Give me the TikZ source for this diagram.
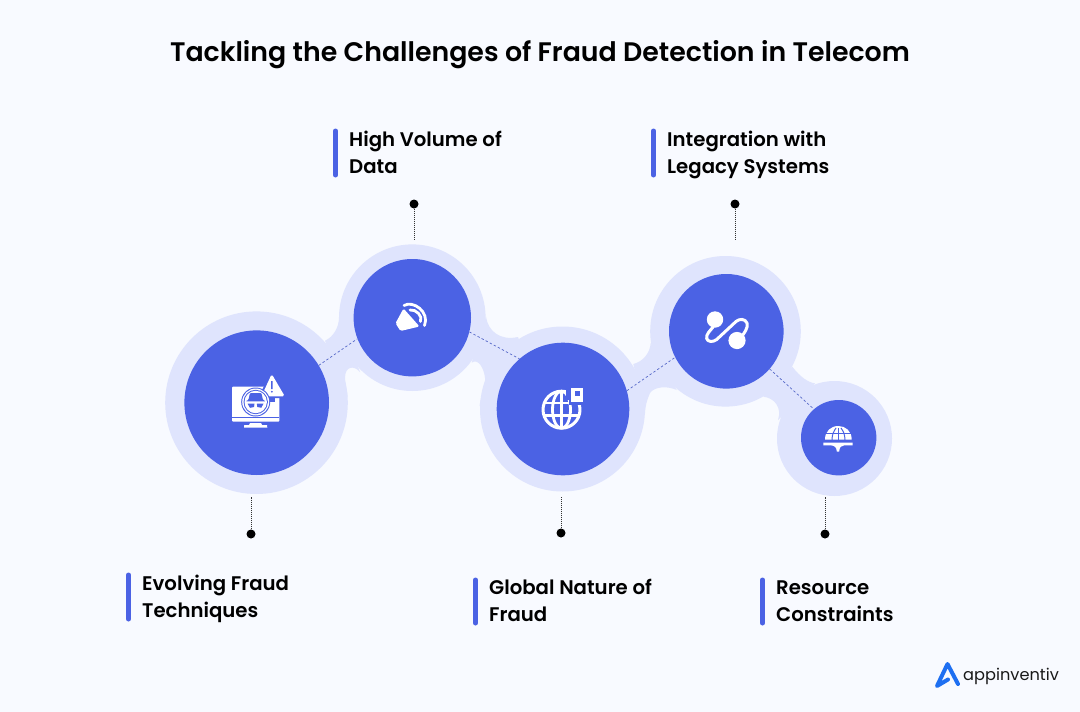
\documentclass[tikz,border=0pt]{standalone}
\usepackage{fontspec}
\setmainfont{Poppins SemiBold}
\newfontfamily\logofont{Poppins}
\definecolor{pagebg}{HTML}{F8FAFF}
\definecolor{halocol}{HTML}{DFE4FD}
\definecolor{disccol}{HTML}{4B62E4}
\definecolor{linkcol}{HTML}{5567C8}
\definecolor{logoblue}{HTML}{1E6FF1}
\tikzset{
 halo/.style={circle,fill=halocol,inner sep=0pt,minimum size=#1},
 disc/.style={circle,fill=disccol,inner sep=0pt,minimum size=#1},
 neck/.style={fill=halocol},
 link/.style={draw=linkcol,line width=0.7pt,dash pattern=on 2.4pt off 2.2pt},
 pinline/.style={draw=black!80,line width=0.6pt,dash pattern=on 1pt off 1pt},
 pindot/.style={circle,fill=black,inner sep=0pt,minimum size=9pt},
 accent/.style={draw=disccol,line width=5pt,line cap=round},
 label/.style={anchor=west,align=left,inner sep=0pt,text=black,font=\fontsize{19.7}{27}\selectfont},
 icon/.style={fill=white,draw=none},
 iconline/.style={draw=white,line width=2.8pt,line cap=round,line join=round},
 cutline/.style={draw=disccol,line width=1.2pt},
}
\begin{document}
\begin{tikzpicture}[x=1pt,y=-1pt]
\path[use as bounding box,fill=pagebg] (0,0) rectangle (1080,712);
\node[anchor=base,inner sep=0pt,font=\fontsize{26.8}{32}\selectfont] (title) at (540,61) {Tackling the Challenges of Fraud Detection in Telecom};
% necks
\fill[neck] (325,340.7) .. controls (333,337) and (339,328) .. (339,317) -- (360,372) .. controls (354,365) and (345,366) .. (345,378) .. controls (345,385) and (347,390) .. (347.7,397) -- cycle;
\fill[neck] (486,316.7) .. controls (488,331) and (500,341) .. (518,337) -- (540,400) -- (479.5,406) .. controls (481,395) and (486,385) .. (485,378) .. controls (484,368) and (478,358) .. (471.7,362.7) -- cycle;
\fill[neck] (633.3,364) .. controls (643,361.7) and (650,353) .. (650.7,343) -- (676.7,390) .. controls (668,386) and (655,386) .. (650,393) .. controls (647,400) and (645.5,405) .. (645,413) -- cycle;
\fill[neck] (792.3,366.7) .. controls (800,376.7) and (808.3,382.7) .. (815,383.3) -- (778,420) .. controls (782,408) and (775,398) .. (763.3,396.7) -- cycle;
% halos
\node[halo=182.6pt] (h1) at (256.5,402.7) {};
\node[halo=146.6pt] (h2) at (412.3,317.7) {};
\node[halo=165pt] (h3) at (562.5,409) {};
\node[halo=150.6pt] (h4) at (725.5,331.3) {};
\node[halo=115pt] (h5) at (834.5,438.5) {};
% discs
\node[disc=144.6pt] (c1) at (256.7,402.7) {};
\node[disc=117.4pt] (c2) at (412.3,317.7) {};
\node[disc=132.6pt] (c3) at (563,409) {};
\node[disc=114.6pt] (c4) at (726.3,331.3) {};
\node[disc=75.4pt] (c5) at (838.7,437.7) {};
% dashed connectors
\draw[link] (c1.31.4) -- (c2.201.8);
\draw[link] (c2.-14) -- (c3.131);
\draw[link] (c3.16.5) -- (c4.207);
\draw[link] (c4.-41) -- (c5.131.5);
% pins
\node[pindot] (p1) at (251,534) {};
\node[pindot] (p2) at (414,204) {};
\node[pindot] (p3) at (561,533) {};
\node[pindot] (p4) at (735,204) {};
\node[pindot] (p5) at (825,534) {};
\coordinate (e1) at (251,497);
\coordinate (e2) at (414,240);
\coordinate (e3) at (561,497);
\coordinate (e4) at (735,240);
\coordinate (e5) at (825,497);
\draw[pinline] (p1) -- (e1);
\draw[pinline] (p2) -- (e2);
\draw[pinline] (p3) -- (e3);
\draw[pinline] (p4) -- (e4);
\draw[pinline] (p5) -- (e5);
% accent bars and labels
\draw[accent] (128.5,575) -- (128.5,619);
\draw[accent] (335.5,131) -- (335.5,175);
\draw[accent] (475.5,580) -- (475.5,623);
\draw[accent] (653.5,131) -- (653.5,175);
\draw[accent] (762.5,580) -- (762.5,623);
\node[label] (l1) at (142,599) {Evolving Fraud\\Techniques};
\node[label] (l2) at (349,152) {High Volume of\\Data};
\node[label] (l3) at (489,600) {Global Nature of\\Fraud};
\node[label] (l4) at (667,155) {Integration with\\Legacy Systems};
\node[label] (l5) at (776,601) {Resource\\Constraints};
% icon 1: monitor
\fill[icon,rounded corners=1pt] (232,386.7) rectangle (279.3,421.7);
\draw[cutline] (232,417.5) -- (279.3,417.5);
\fill[icon] (250,423) -- (261,423) -- (262,425) -- (267,425) -- (267.3,427.5) -- (244,427.5) -- (244.3,425) -- (249,425) -- cycle;
\fill[disccol,rounded corners=1pt] (271.7,371) -- (287.5,398) -- (258,398) -- cycle;
\fill[disccol] (260,398) rectangle (275,402);
\fill[icon,rounded corners=1.8pt] (271.7,374) -- (284.8,396.3) -- (261.5,396.3) -- cycle;
\fill[disccol] (271,381) -- (272.6,381) -- (272.5,389) -- (271.1,389) -- cycle;
\fill[disccol] (271.8,391.7) circle [radius=1];
\fill[disccol] (255.7,402) circle [radius=14.5];
\fill[icon] (255.7,402) circle [radius=13.5];
\fill[disccol] (255.7,402) circle [radius=12.2];
\fill[icon] (255.7,402) circle [radius=11.2];
\fill[disccol,rounded corners=1pt] (250,393) -- (261.4,393) -- (263,400) -- (266,401.3) -- (245.4,401.3) -- (248.4,400) -- cycle;
\fill[disccol] (247.5,403.6) -- (254.5,403.6) -- (254,407) -- (250,407.8) -- cycle;
\fill[disccol] (263.5,403.6) -- (256.8,403.6) -- (257.3,407) -- (261.3,407.8) -- cycle;
% icon 2: speaker
\fill[icon,rounded corners=1.5pt] (403.5,308.5) -- (395.5,323.3) -- (400.5,331) -- (419.5,326.5) -- cycle;
\draw[iconline] (404,305.5) .. controls (413,300) and (430,312) .. (424.5,325.5);
\draw[iconline] (410,310) .. controls (416,309) and (423,316) .. (420.5,321.5);
% icon 3: globe
\begin{scope}
\clip (538,385) rectangle (590,435);
\draw[iconline,line width=3pt] (561.5,409.7) circle [radius=18.5];
\draw[iconline,line width=2.8pt] (561.5,409.7) ellipse [x radius=9,y radius=18.5];
\draw[iconline,line width=2.8pt] (561.5,391.2) -- (561.5,428);
\draw[iconline,line width=2.8pt,line cap=butt] (544,403) -- (580,403);
\draw[iconline,line width=2.8pt,line cap=butt] (544,415.5) -- (580,415.5);
\end{scope}
\fill[disccol] (566,385) rectangle (586,400);
\fill[disccol] (569,385) rectangle (586,404.5);
\fill[icon] (571,388) rectangle (583.3,401.7);
\fill[disccol] (575,391) rectangle (580,395.5);
% icon 4: path
\draw[iconline,line width=3pt] (713.3,326.7) .. controls (710,331) and (706,334) .. (706.7,338.5) .. controls (707.5,342) and (713,342.5) .. (716.7,339.5) -- (736,321.5) .. controls (739.5,318.5) and (745,318.5) .. (747,323) .. controls (748.5,328) and (744,333) .. (741.7,336.7);
\fill[icon] (715,319.5) circle [radius=8.2];
\fill[icon] (737,340.5) circle [radius=8.6];
% icon 5: dome
\fill[icon] (825,439.5) .. controls (825,431) and (831,426) .. (838.3,426) .. controls (845.5,426) and (851.7,431) .. (851.7,439.5) -- cycle;
\draw[cutline,line width=1pt] (824,433.5) -- (852,433.5);
\draw[cutline,line width=1pt] (838.3,428) -- (838.3,440);
\draw[cutline,line width=1pt] (832,440) .. controls (832,434) and (834,431) .. (836,428);
\draw[cutline,line width=1pt] (845,440) .. controls (845,434) and (843,431) .. (841,428);
\fill[icon] (823.3,442.6) -- (852.7,442.6) -- (852.7,445.4) -- (844,445.4) .. controls (841,445.7) and (839.5,447) .. (839.2,451.5) -- (836.8,451.5) .. controls (836.5,447) and (834.5,445.7) .. (831,445.4) -- (823.3,445.4) -- cycle;
% logo
\draw[logoblue,line width=4pt,line join=round,line cap=round] (958,684) -- (947.5,664) -- (937,686) -- (948,679.5);
\node[anchor=base west,inner sep=0pt,font=\logofont\fontsize{16.2}{20}\selectfont,text=black!90] (logo) at (963,680) {appinventiv};
\end{tikzpicture}
\end{document}
